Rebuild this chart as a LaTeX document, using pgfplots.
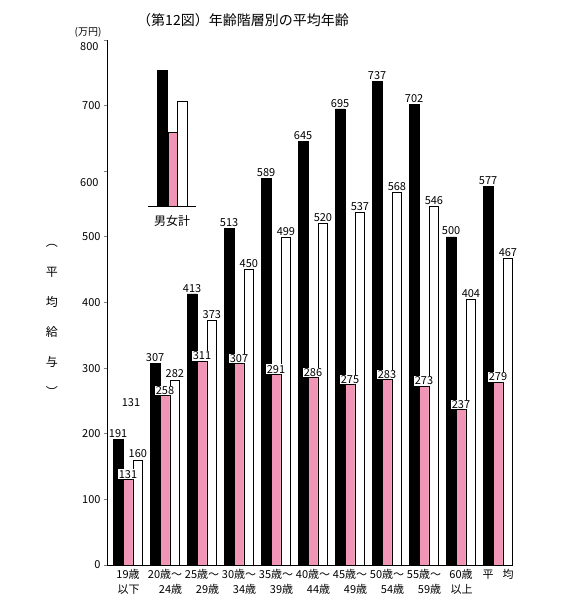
\documentclass[border=0pt]{standalone}
\usepackage{pgfplots}
\pgfplotsset{compat=1.18}
\usepackage{fontspec}
\setmainfont{Noto Sans CJK JP}
\definecolor{barpink}{RGB}{240,149,181}
\newcommand{\fs}[1]{\fontsize{#1bp}{#1bp}\selectfont}
\begin{document}
\begin{tikzpicture}
	\begin{axis}[
		at={(0,0)}, anchor=south west,
		scale only axis,
		width=406bp, height=525bp,
		xmin=-0.5676, xmax=10.405,
		ymin=0, ymax=800,
		axis lines=left,
		axis line style={-, line width=0.8bp},
		ybar=0pt, bar width=9.9bp,
		ytick={0,100,200,300,400,500,600,700,800},
		yticklabels={0,100,200,300,400,500,,700,},
		xtick={0,...,10},
		xticklabels={{19歳\\以下},{20歳～\\24歳},{25歳～\\29歳},{30歳～\\34歳},{35歳～\\39歳},{40歳～\\44歳},{45歳～\\49歳},{50歳～\\54歳},{55歳～\\59歳},{60歳\\以上},{\raisebox{-4bp}{平\hspace{9bp}均}}},
		xticklabel style={align=right, font=\fontsize{11bp}{15bp}\selectfont, inner sep=1bp},
		yticklabel style={font=\fs{11}},
		x tick style={draw=none},
		y tick style={line width=0.8bp},
		tick align=outside,
		major tick length=3bp,
		/pgf/number format/assume math mode=true,
		clip=false,
	]
		\addplot[fill=black, draw=black, line width=0.5bp,
			nodes near coords,
			every node near coord/.append style={font=\fs{11}, black, inner sep=1.5bp}]
			coordinates {(0,191) (1,307) (2,413) (3,513) (4,589) (5,645) (6,695) (7,737) (8,702) (9,500) (10,577)};
		\addplot[fill=barpink, draw=black, line width=0.5bp,
			nodes near coords,
			every node near coord/.append style={font=\fs{11}, black, fill=white, inner sep=0.6bp}]
			coordinates {(0,131) (1,258) (2,311) (3,307) (4,291) (5,286) (6,275) (7,283) (8,273) (9,237) (10,279)};
		\addplot[fill=white, draw=black, line width=0.8bp,
			nodes near coords,
			every node near coord/.append style={font=\fs{11}, black, inner sep=1.5bp}]
			coordinates {(0,160) (1,282) (2,373) (3,450) (4,499) (5,520) (6,537) (7,568) (8,546) (9,404) (10,467)};

		% legend key: 男女計
		\fill[black] (axis cs:0.784,547) rectangle (axis cs:1.081,754);
		\filldraw[fill=barpink, draw=black, line width=0.5bp] (axis cs:1.081,547) rectangle (axis cs:1.324,660);
		\draw[fill=white, line width=0.8bp] (axis cs:1.324,547) rectangle (axis cs:1.595,707);
		\draw[line width=0.8bp] (axis cs:0.54,547) -- (axis cs:1.838,547);
		\node[font=\fs{12}] at (axis cs:1.19,524) {男女計};
		\node[font=\fs{11}] at (axis cs:0.08,247) {131};
	\end{axis}
	\node[font=\fs{11}, anchor=east] at (-5bp,382bp) {600};
	\node[font=\fs{11}, anchor=east] at (-5bp,518bp) {800};
	\node[font=\fs{14}] at (136bp,545bp) {（第12図）年齢階層別の平均年齢};
	\node[font=\fs{10}] at (-19bp,533bp) {(万円)};
	\node[font=\fontsize{12bp}{30bp}\selectfont, align=center] at (-55bp,245bp) {︵\\平\\均\\給\\与\\︶};
	\pgfresetboundingbox
	\useasboundingbox (-107bp,-50bp) rectangle (466bp,565bp);
\end{tikzpicture}
\end{document}
